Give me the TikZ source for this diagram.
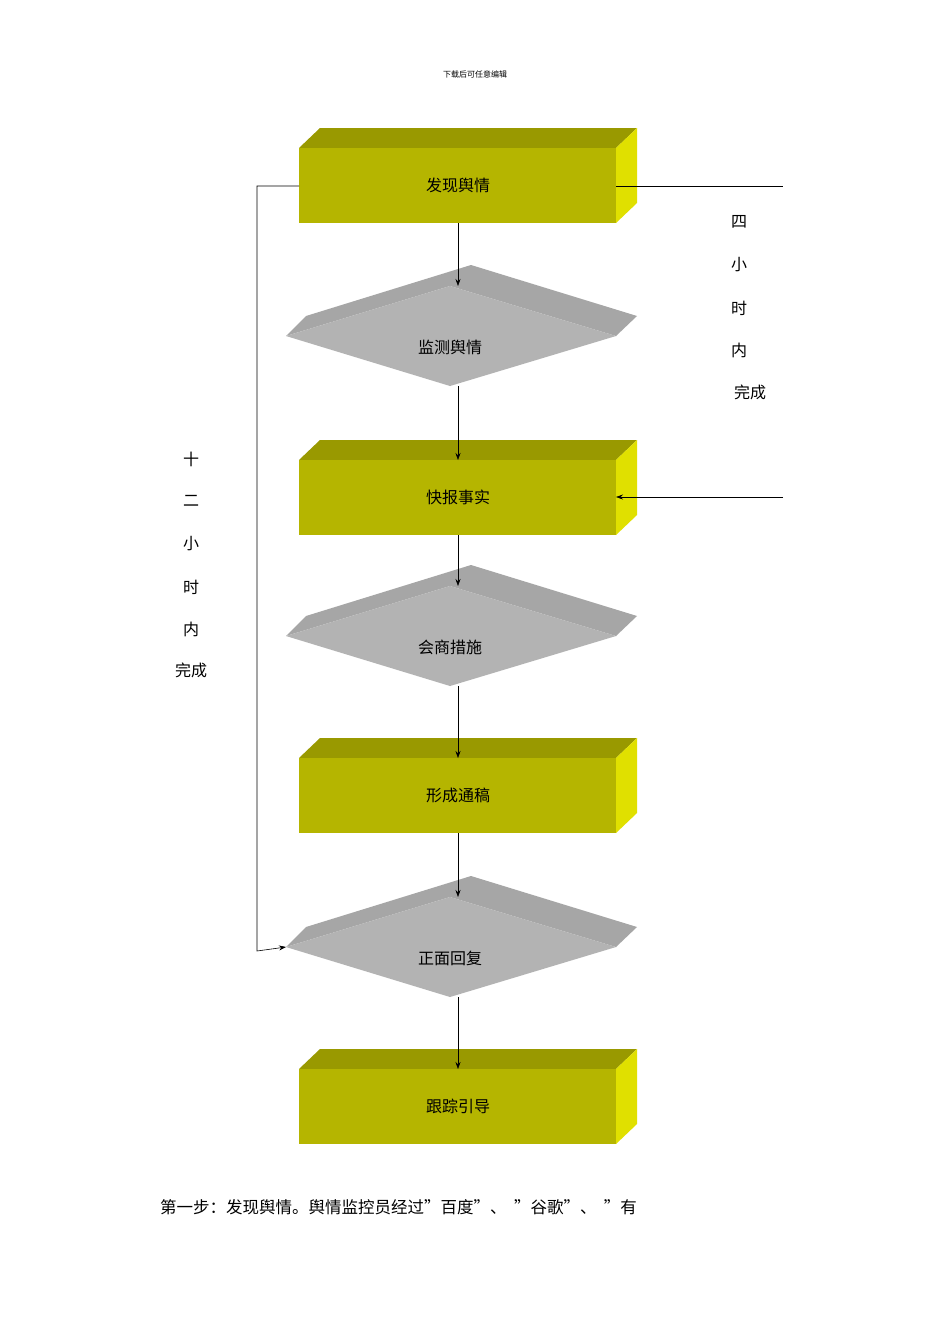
\documentclass[tikz,border=0pt]{standalone}
\usepackage{fontspec}
\setmainfont{Noto Sans CJK SC}
\usetikzlibrary{arrows.meta}
\definecolor{bfront}{HTML}{B5B500}
\definecolor{btop}{HTML}{999900}
\definecolor{bside}{HTML}{E0E000}
\definecolor{dfront}{HTML}{B3B3B3}
\definecolor{dbevel}{HTML}{A6A6A6}
\tikzset{x=1pt,y=-1pt,
 lbl/.style={font=\fontsize{16}{18}\selectfont,inner sep=0},
 side/.style={font=\fontsize{16}{18}\selectfont,inner sep=0},
 arr/.style={-{Stealth[length=7pt,width=5pt]},black,line width=0.6pt},
 ln/.style={black,line width=0.6pt}}
\newcommand{\mybox}[3]{% y-top of front, name, text
 \fill[btop] (299,#1) -- (320,#1-20) -- (637,#1-20) -- (616,#1) -- cycle;
 \fill[bside] (616,#1) -- (637,#1-20) -- (637,#1+55) -- (616,#1+75) -- cycle;
 \fill[bfront] (299,#1) rectangle (616,#1+75);
 \node[lbl] (#2) at (458,#1+37) {#3};
 \coordinate (#2t) at (458,#1); \coordinate (#2b) at (458,#1+75);}
\newcommand{\mydia}[3]{% y of outer top, name, text
 \fill[dbevel] (286,#1+71) -- (306,#1+51) -- (471,#1) -- (637,#1+51) -- (616,#1+71) -- (450,#1+21) -- cycle;
 \fill[dfront] (450,#1+21) -- (616,#1+71) -- (450,#1+121) -- (286,#1+71) -- cycle;
 \node[lbl] (#2) at (450,#1+82) {#3};
 \coordinate (#2t) at (458,#1+21); \coordinate (#2b) at (458,#1+121);
 \coordinate (#2l) at (286,#1+71);}
\begin{document}
\begin{tikzpicture}
\useasboundingbox[fill=white] (0,0) rectangle (950,1344);
\node[font=\fontsize{8}{9}\selectfont] (hdr) at (475,74) {下载后可任意编辑};
\mybox{148}{b1}{发现舆情}
\mydia{265}{d1}{监测舆情}
\mybox{460}{b2}{快报事实}
\mydia{565}{d2}{会商措施}
\mybox{758}{b3}{形成通稿}
\mydia{876}{d3}{正面回复}
\mybox{1069}{b4}{跟踪引导}
\draw[arr] (b1b) -- (d1t);
\draw[arr] (d1b) -- (b2t);
\draw[arr] (b2b) -- (d2t);
\draw[arr] (d2b) -- (b3t);
\draw[arr] (b3b) -- (d3t);
\draw[arr] (d3b) -- (b4t);
\coordinate (lt) at (299,186); \coordinate (lc) at (257,186);
\coordinate (ld) at (257,951);
\draw[arr] (lt) -- (lc) -- (ld) -- (d3l);
\coordinate (rt1) at (616,186); \coordinate (rt2) at (783,186);
\draw[ln] (rt1) -- (rt2);
\coordinate (ra) at (783,497); \coordinate (rb) at (616,497);
\draw[arr] (ra) -- (rb);
\node[side] (r1) at (739,222) {四};
\node[side] (r2) at (739,265) {小};
\node[side] (r3) at (739,308) {时};
\node[side] (r4) at (739,350) {内};
\node[side] (r5) at (750,392) {完成};
\node[side] (l1) at (191,459) {十};
\node[side] (l2) at (191,501) {二};
\node[side] (l3) at (191,544) {小};
\node[side] (l4) at (191,587) {时};
\node[side] (l5) at (191,629) {内};
\node[side] (l6) at (191,670) {完成};
\node[anchor=west,inner sep=0,font=\fontsize{16.5}{18}\selectfont] (foot) at (160,1207) {第一步：发现舆情。舆情监控员经过”百度”、\ \ ”谷歌”、\ \ ”有};
\end{tikzpicture}
\end{document}
